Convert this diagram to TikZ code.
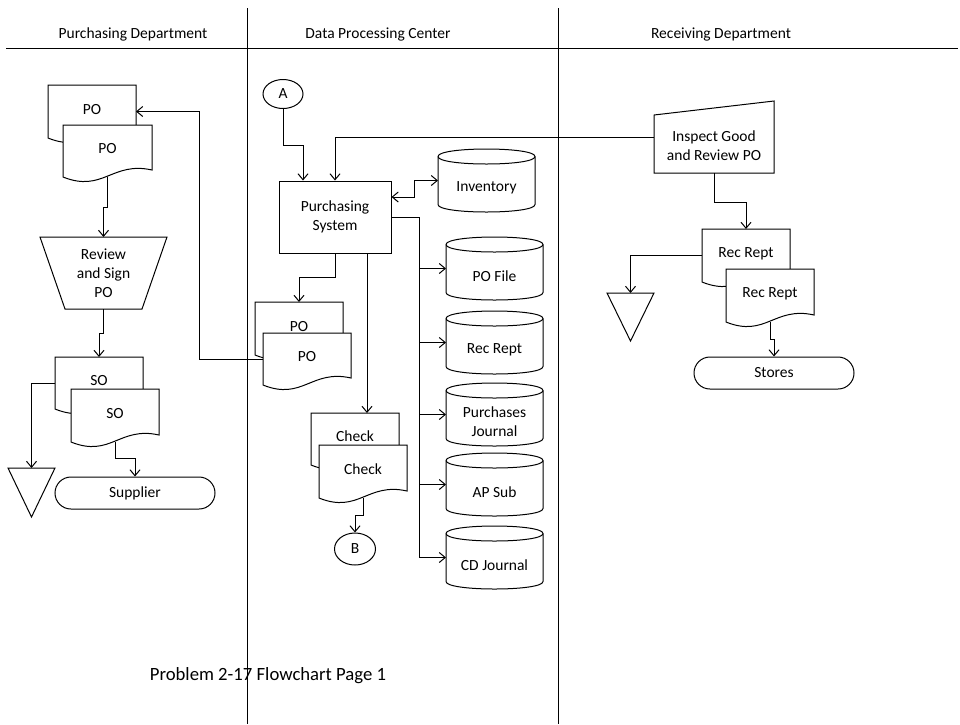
\documentclass[tikz,border=0pt]{standalone}
\usepackage{fontspec}
\setmainfont{Carlito}
\usetikzlibrary{arrows.meta,shapes.geometric,calc}
\tikzset{
  ln/.style={line width=1pt, draw=black},
  shp/.style={ln, fill=white, line join=miter},
  arr/.style={ln, -{Straight Barb[length=6pt,width=10pt]}},
  arrtwo/.style={ln, {Straight Barb[length=6pt,width=10pt]}-{Straight Barb[length=6pt,width=10pt]}},
  box/.style={inner sep=0pt, outer sep=0pt},
  doctext/.style={box, text depth=5pt},
  lbl/.style={align=center, inner sep=0pt},
  termbox/.style={ln, fill=white, rounded corners=16pt, minimum width=160pt, minimum height=32pt, inner sep=0pt},
  conn/.style={ln, ellipse, fill=white, inner sep=0pt},
}
% document shape: name, x0, top, w, h, text
\newcommand\FDoc[6]{%
  \path[shp] (#2,#3) -- (#2+#4,#3) -- (#2+#4,#3+#5-7)
     .. controls (#2+0.55*#4,#3+#5-16) and (#2+0.45*#4,#3+#5+16) .. (#2,#3+#5) -- cycle;
  \node[doctext, minimum width=#4, minimum height=#5, anchor=north west] (#1) at (#2,#3) {#6};
}
% cylinder: name, x0, top, w, h, text
\newcommand\FCyl[6]{%
  \path[shp] (#2,#3+7.5) -- (#2,#3+#5-7.5)
     .. controls (#2,#3+#5+2.5) and (#2+#4,#3+#5+2.5) .. (#2+#4,#3+#5-7.5)
     -- (#2+#4,#3+7.5)
     .. controls (#2+#4,#3-2.5) and (#2,#3-2.5) .. cycle;
  \draw[ln] (#2,#3+7.5) .. controls (#2,#3+17.5) and (#2+#4,#3+17.5) .. (#2+#4,#3+7.5);
  \node[box, minimum width=#4, minimum height=#5, anchor=north west] (#1) at (#2,#3) {};
  \node[lbl] (#1t) at (#2+#4/2,#3+7.5+#5/2) {#6};
}
% offline storage triangle: name, x0, top, w, h
\newcommand\FTri[5]{%
  \path[shp] (#2,#3) -- (#2+#4,#3) -- (#2+#4/2,#3+#5) -- cycle;
  \node[box, minimum width=#4, minimum height=#5, anchor=north] (#1) at (#2+#4/2,#3) {};
}
\begin{document}
\begin{tikzpicture}[x=1pt, y=-1pt, every node/.style={font=\fontsize{15.5}{19}\selectfont}]
\useasboundingbox (0,0) rectangle (960,724);

% swimlanes
\draw[ln] (6,48) -- (958,48);
\draw[ln] (247,8) -- (247,724);
\draw[ln] (558,8) -- (558,724);
\node[lbl] (h1) at (133,34) {Purchasing Department};
\node[lbl] (h2) at (378,34) {Data Processing Center};
\node[lbl] (h3) at (721,34) {Receiving Department};

% ---------- Purchasing Department ----------
\FDoc{poLb}{48}{85}{88}{53}{PO}
\FDoc{poLf}{63}{125}{89}{52}{PO}

\path[shp] (40,237) -- (167,237) -- (142,309) -- (65,309) -- cycle;
\node[box, lbl, minimum width=127, minimum height=72] (rev) at (103.5,273) {Review\\and Sign\\PO};

\FDoc{soLb}{55}{357}{88}{52}{SO}
\FDoc{soLf}{71}{389}{88}{53}{SO}

\FTri{triL}{8}{468}{47}{49}
\node[termbox] (sup) at (135,493) {Supplier};

% ---------- Data Processing Center ----------
\node[conn, minimum width=40, minimum height=29] (A) at (283,94) {A};
\node[ln, fill=white, minimum width=112, minimum height=72, inner sep=0pt, align=center] (ps) at (335,217) {Purchasing\\System};

\FCyl{inv}{438}{149}{97}{63}{Inventory}
\FCyl{pofile}{446}{237}{97}{63}{PO File}
\FCyl{recrept}{446}{311}{97}{63}{Rec Rept}
\FCyl{pj}{446}{383}{97}{63}{Purchases\\Journal}
\FCyl{apsub}{446}{453}{97}{63}{AP Sub}
\FCyl{cdj}{446}{526}{97}{63}{CD Journal}

\FDoc{poMb}{255}{302}{88}{53}{PO}
\FDoc{poMf}{263}{333}{88}{52}{PO}

\FDoc{chkb}{311}{413}{88}{52}{Check}
\FDoc{chkf}{319}{445}{88}{53}{Check}

\node[conn, minimum width=41, minimum height=32] (B) at (355,549) {B};

% ---------- Receiving Department ----------
\path[shp] (654,115) -- (774,101) -- (774,173) -- (654,173) -- cycle;
\node[box, minimum width=120, minimum height=72] (insp) at (714,137) {};
\node[lbl] (inspt) at (714,145.5) {Inspect Good\\and Review PO};

\FDoc{rrb}{702}{229}{88}{53}{Rec Rept}
\FDoc{rrf}{726}{269}{88}{53}{Rec Rept}

\FTri{triR}{607}{293}{47}{48}
\node[termbox] (stores) at (774,373) {Stores};

% ---------- connectors ----------
\draw[arr] (poLf.south) -- ++(0,30) -| (rev.north);
\draw[arr] (rev.south) -- ++(0,24) -| (soLb.north);
\draw[arr] (soLb.west) -| (triL.north);
\draw[arr] (soLf.south) -- ++(0,16) -| (sup.north);
\draw[arr] (poMf.west) -- ++(-64,0) |- (poLb.east);

\draw[arr] (A.south) -- ++(0,36) -| ([xshift=-32pt]ps.north);
\draw[arr] (insp.west) -| (ps.north);
\draw[arrtwo] ([yshift=20pt]ps.east) -- ++(23,0) |- (inv.west);
\draw[arr] (ps.east) -- ++(28,0) |- (pofile.west);
\draw[arr] (ps.east) -- ++(28,0) |- (recrept.west);
\draw[arr] (ps.east) -- ++(28,0) |- (pj.west);
\draw[arr] (ps.east) -- ++(28,0) |- (apsub.west);
\draw[arr] (ps.east) -- ++(28,0) |- (cdj.west);
\draw[arr] (ps.south) -- ++(0,24) -| (poMb.north);
\draw[arr] ([xshift=32pt]ps.south) -- ([xshift=32pt]ps.south |- chkb.north);
\draw[arr] (chkf.south) -- ++(0,17) -| (B.north);

\draw[arr] (insp.south) -- ++(0,29) -| (rrb.north);
\draw[arr] (rrb.west) -| (triR.north);
\draw[arr] (rrf.south) -- ++(0,17) -| (stores.north);

% title
\node[lbl, font=\fontsize{18.7}{22}\selectfont] (title) at (268,676) {Problem 2-17 Flowchart Page 1};
\end{tikzpicture}
\end{document}
